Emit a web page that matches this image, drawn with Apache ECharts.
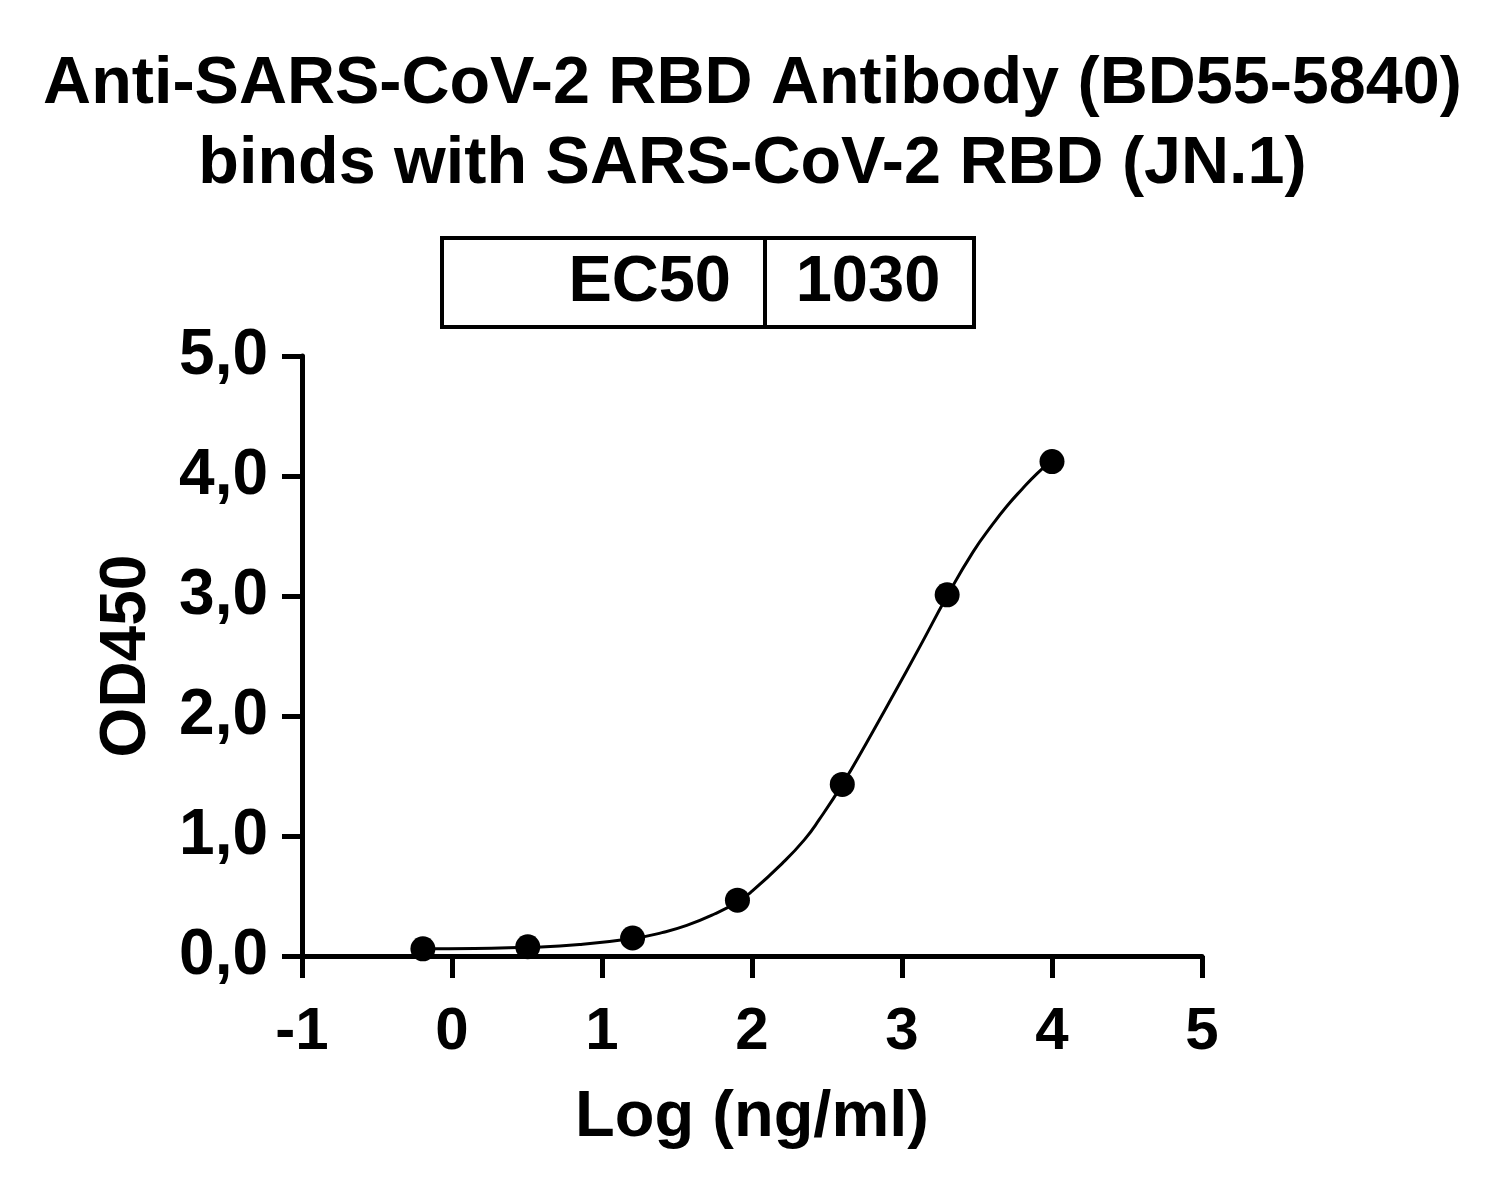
<!DOCTYPE html>
<html>
<head>
<meta charset="utf-8">
<script src="https://cdn.jsdelivr.net/npm/echarts@6/dist/echarts.min.js"></script>
<style>
  html, body { margin: 0; padding: 0; background: #ffffff; }
  #chart { width: 1505px; height: 1204px; }
</style>
</head>
<body>
<div id="chart"></div>
<script>
// ---- data ----
const titleLines = ['Anti-SARS-CoV-2 RBD Antibody (BD55-5840)', 'binds with SARS-CoV-2 RBD (JN.1)'];
const xAxisName = 'Log (ng/ml)';
const yAxisName = 'OD450';
const ec50Label = 'EC50';
const ec50Value = '1030';

// measured points: log10 concentration (ng/ml) and OD450
const logConc = [-0.194, 0.505, 1.204, 1.903, 2.602, 3.301, 4.0];
const od450   = [0.06, 0.077, 0.15, 0.465, 1.43, 3.01, 4.12];

// fitted curve
const curveX = [-0.194, 0.15, 0.505, 0.85, 1.204, 1.4, 1.565, 1.75, 1.903, 2.0, 2.2, 2.35, 2.45, 2.602, 2.765, 2.94, 3.12, 3.301, 3.475, 3.6, 3.7, 3.8, 3.9, 4.0];
const curveY = [0.06, 0.063, 0.072, 0.095, 0.145, 0.195, 0.255, 0.35, 0.45, 0.54, 0.77, 0.97, 1.14, 1.43, 1.78, 2.17, 2.58, 3.0, 3.37, 3.59, 3.75, 3.89, 4.02, 4.13];

const xMin = -1, xMax = 5, xStep = 1;
const yMin = 0, yMax = 5, yStep = 1;

// ---- chart ----
const FONT = "'Liberation Sans', Arial, sans-serif";
const chart = echarts.init(document.getElementById('chart'), null, { renderer: 'canvas' });

const scatterData = logConc.map((x, i) => [x, od450[i]]);
const curveData = curveX.map((x, i) => [x, curveY[i]]);

chart.setOption({
  backgroundColor: '#ffffff',
  animation: false,
  title: {
    text: titleLines.join('\n'),
    left: 'center',
    top: 40,
    textStyle: { fontFamily: FONT, fontWeight: 'bold', fontSize: 66.5, lineHeight: 80, color: '#000' }
  },
  grid: { left: 302, right: 303, top: 356, bottom: 248, containLabel: false },
  xAxis: {
    type: 'value', min: xMin, max: xMax, interval: xStep,
    name: xAxisName, nameLocation: 'middle', nameGap: 130,
    nameTextStyle: { fontFamily: FONT, fontWeight: 'bold', fontSize: 65, color: '#000' },
    axisLine: { show: true, onZero: false, lineStyle: { color: '#000', width: 5 } },
    axisTick: { show: true, inside: false, length: 22, lineStyle: { color: '#000', width: 5 } },
    axisLabel: { fontFamily: FONT, fontWeight: 'bold', fontSize: 60, color: '#000', margin: 46 },
    splitLine: { show: false }
  },
  yAxis: {
    type: 'value', min: yMin, max: yMax, interval: yStep,
    name: yAxisName, nameLocation: 'middle', nameGap: 143, nameRotate: 90,
    nameTextStyle: { fontFamily: FONT, fontWeight: 'bold', fontSize: 64, color: '#000' },
    axisLine: { show: true, onZero: false, lineStyle: { color: '#000', width: 5 } },
    axisTick: { show: true, inside: false, length: 20, lineStyle: { color: '#000', width: 5 } },
    axisLabel: {
      fontFamily: FONT, fontWeight: 'bold', fontSize: 64, color: '#000', margin: 34,
      formatter: v => v.toFixed(1).replace('.', ',')
    },
    splitLine: { show: false }
  },
  graphic: [
    {
      type: 'group',
      children: [
        { type: 'rect', shape: { x: 442, y: 238, width: 532, height: 89 },
          style: { fill: 'none', stroke: '#000', lineWidth: 4 } },
        { type: 'line', shape: { x1: 765, y1: 238, x2: 765, y2: 327 },
          style: { stroke: '#000', lineWidth: 4 } },
        { type: 'text', x: 731, y: 283,
          style: { text: ec50Label, fontFamily: FONT, fontWeight: 'bold', fontSize: 65, fill: '#000',
                   textAlign: 'right', textVerticalAlign: 'middle' } },
        { type: 'text', x: 868, y: 283,
          style: { text: ec50Value, fontFamily: FONT, fontWeight: 'bold', fontSize: 65, fill: '#000',
                   textAlign: 'center', textVerticalAlign: 'middle' } }
      ]
    }
  ],
  series: [
    {
      type: 'line', data: curveData, smooth: 0.5, showSymbol: false, symbol: 'none',
      lineStyle: { color: '#000', width: 3 }, z: 2
    },
    {
      type: 'scatter', data: scatterData, symbol: 'circle', symbolSize: 25,
      itemStyle: { color: '#000', opacity: 1 }, z: 3
    }
  ]
});
</script>
</body>
</html>
